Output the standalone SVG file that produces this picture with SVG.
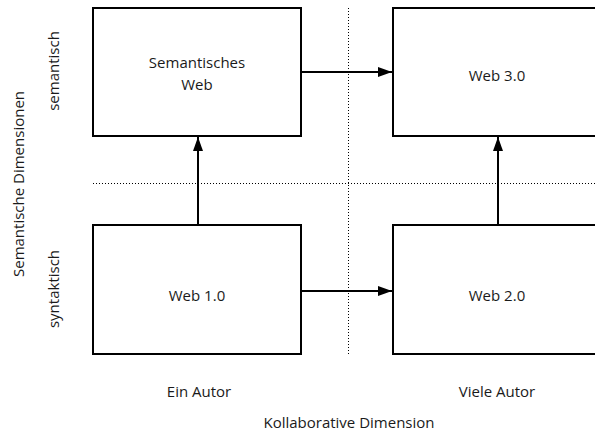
<svg xmlns="http://www.w3.org/2000/svg" width="595" height="435" viewBox="0 0 595 435">
<defs>
<marker id="ah" markerWidth="14" markerHeight="10" refX="14" refY="5" orient="auto" markerUnits="userSpaceOnUse">
<path d="M0,0 L14,5 L0,10 Z" fill="#000"/>
</marker>
<style>
text{font-family:"Open Sans","Liberation Sans",sans-serif;font-size:15px;fill:#1a1a1a;text-anchor:middle}
.box{fill:#fff;stroke:#000;stroke-width:2}
.dot{stroke:#000;stroke-width:1;stroke-dasharray:1,2;fill:none}
.conn{stroke:#000;stroke-width:2;fill:none;marker-end:url(#ah)}
</style>
</defs>
<rect width="595" height="435" fill="#fff"/>
<g id="guides">
<line class="dot" x1="348.5" y1="8" x2="348.5" y2="355"/>
<line class="dot" x1="93" y1="183.5" x2="595" y2="183.5"/>
</g>
<g id="n-semweb"><rect class="box" x="93" y="8" width="208" height="128"/><text x="197" y="68">Semantisches</text><text x="197" y="90">Web</text></g>
<g id="n-web30"><rect class="box" x="393" y="8" width="210" height="128"/><text x="497" y="81">Web 3.0</text></g>
<g id="n-web10"><rect class="box" x="93" y="225" width="208" height="129"/><text x="197" y="301">Web 1.0</text></g>
<g id="n-web20"><rect class="box" x="393" y="225" width="210" height="129"/><text x="497" y="301">Web 2.0</text></g>
<g id="connectors">
<line class="conn" x1="301" y1="72" x2="392" y2="72"/>
<line class="conn" x1="301" y1="291" x2="392" y2="291"/>
<line class="conn" x1="198" y1="225" x2="198" y2="137"/>
<line class="conn" x1="498" y1="225" x2="498" y2="137"/>
</g>
<g id="labels">
<text transform="translate(59,71) rotate(-90)">semantisch</text>
<text transform="translate(59,289) rotate(-90)">syntaktisch</text>
<text transform="translate(24,184) rotate(-90)">Semantische Dimensionen</text>
<text x="199" y="397">Ein Autor</text>
<text x="497" y="397">Viele Autor</text>
<text x="349" y="428">Kollaborative Dimension</text>
</g>
</svg>
